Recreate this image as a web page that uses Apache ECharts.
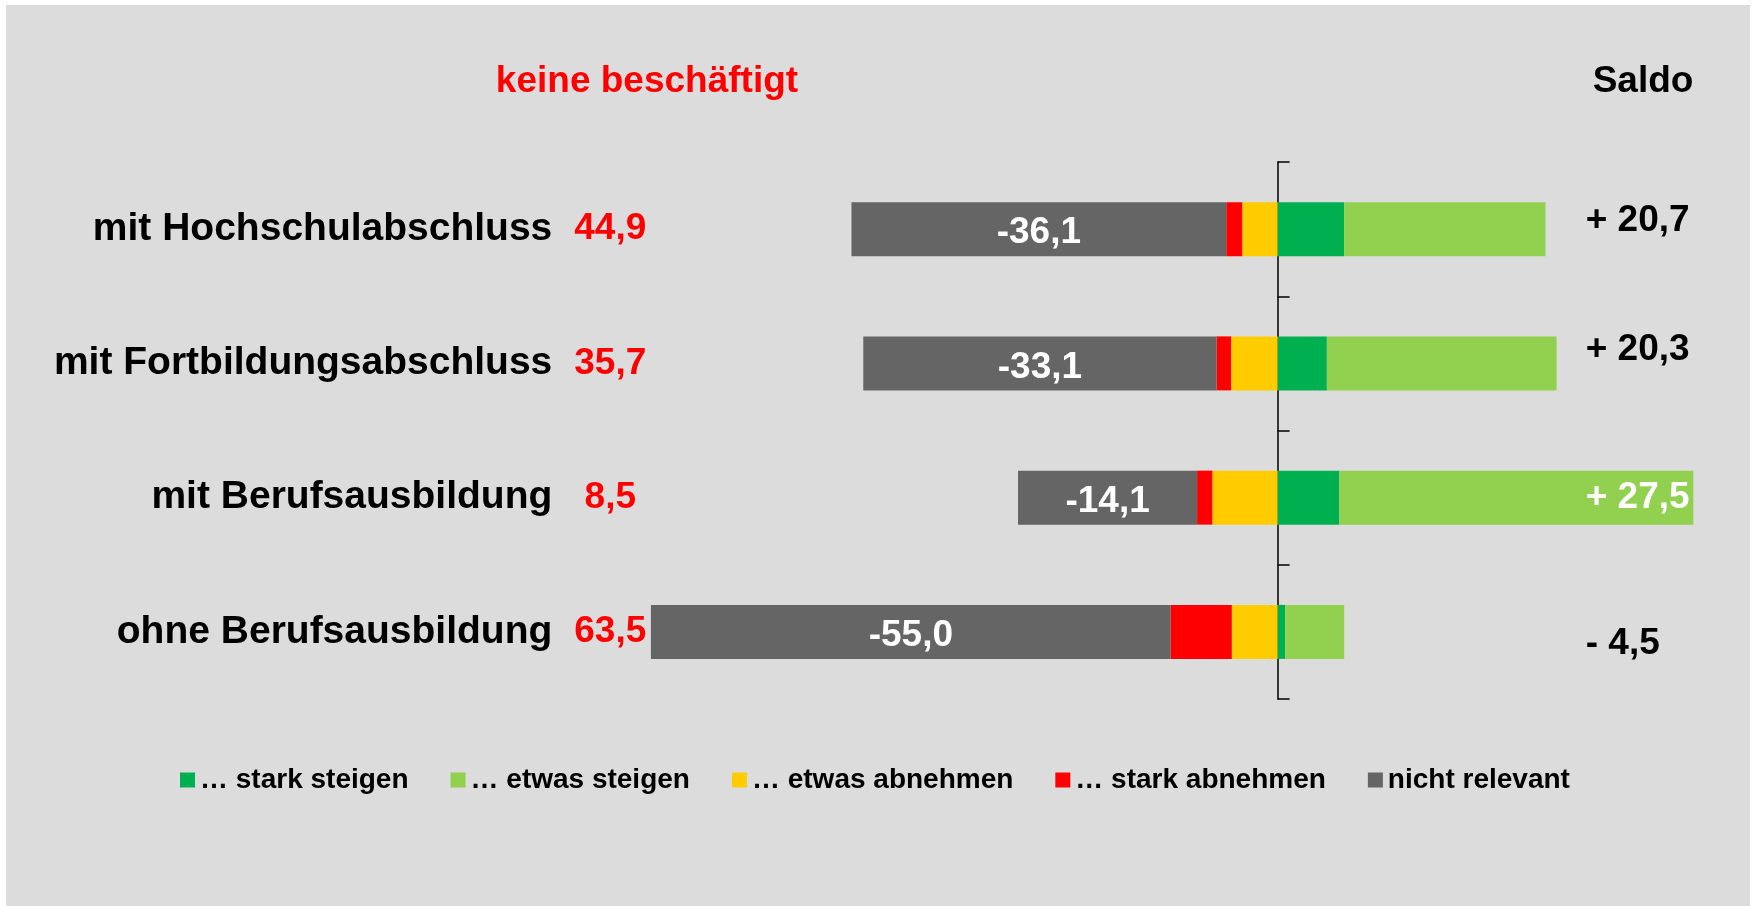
<!DOCTYPE html>
<html>
<head>
<meta charset="utf-8">
<script src="https://cdn.jsdelivr.net/npm/echarts@6/dist/echarts.min.js"></script>
<style>
  html, body { margin: 0; padding: 0; background: #fff; }
  #main { width: 1753px; height: 906px; }
</style>
</head>
<body>
<div id="main"></div>
<script>
// Daten
var categories = ['mit Hochschulabschluss', 'mit Fortbildungsabschluss', 'mit Berufsausbildung', 'ohne Berufsausbildung']
var keineBeschaeftigt = ['44,9', '35,7', '8,5', '63,5']
var starkSteigen = [9.6, 7.1, 8.9, 1.1]
var etwasSteigen = [29.0, 33.1, 51.0, 8.5]
var etwasAbnehmen = [-5.1, -6.7, -9.4, -6.6]
var starkAbnehmen = [-2.3, -2.1, -2.2, -8.8]
var nichtRelevant = [-54.0, -50.9, -25.8, -74.9]
var grauLabels = ['-36,1', '-33,1', '-14,1', '-55,0']
var saldo = ['+ 20,7', '+ 20,3', '+ 27,5', '- 4,5']

var FONT = '"Liberation Sans", Arial, sans-serif'
// vertical nudge of the saldo labels (px, negative = up)
var saldoNudge = [-8, -14, 0, 12]

var saldoRich = {}
saldo.forEach(function (s, i) {
  var d = saldoNudge[i]
  var inside = (starkSteigen[i] + etwasSteigen[i]) > 45
  saldoRich['s' + i] = {
    fontFamily: FONT,
    fontSize: 37,
    fontWeight: 'bold',
    color: inside ? '#fff' : '#000',
    padding: d < 0 ? [0, 0, -2 * d, 0] : [2 * d, 0, 0, 0]
  }
})

function barSeries(name, data, color) {
  return {
    name: name,
    type: 'bar',
    stack: 'total',
    barWidth: 54,
    itemStyle: { color: color },
    data: data
  }
}

var grau = barSeries('nicht relevant', nichtRelevant, '#656565')
grau.label = {
  show: true,
  position: 'inside',
  offset: [0, 4],
  color: '#fff',
  fontFamily: FONT,
  fontSize: 37,
  fontWeight: 'bold',
  textBorderWidth: 0,
  formatter: function (p) { return grauLabels[p.dataIndex] }
}

var myChart = echarts.init(document.getElementById('main'))
var option = {
  animation: false,
  backgroundColor: '#fff',
  textStyle: { fontFamily: FONT },
  graphic: [
    {
      type: 'rect',
      z: -10,
      silent: true,
      shape: { x: 6, y: 5, width: 1744, height: 901 },
      style: { fill: '#DCDCDC' }
    },
    {
      type: 'text',
      x: 647,
      y: 82,
      style: {
        text: 'keine beschäftigt',
        fill: '#FF0000',
        font: 'bold 37px ' + FONT,
        align: 'center', textAlign: 'center',
        verticalAlign: 'middle', textVerticalAlign: 'middle'
      }
    },
    {
      type: 'text',
      x: 1643,
      y: 82,
      style: {
        text: 'Saldo',
        fill: '#000',
        font: 'bold 37px ' + FONT,
        align: 'center', textAlign: 'center',
        verticalAlign: 'middle', textVerticalAlign: 'middle'
      }
    }
  ],
  legend: {
    left: 175,
    top: 761,
    icon: 'rect',
    itemWidth: 15,
    itemHeight: 15,
    itemGap: 42,
    textStyle: { fontFamily: FONT, fontSize: 28, fontWeight: 'bold', color: '#000' },
    data: ['… stark steigen', '… etwas steigen', '… etwas abnehmen', '… stark abnehmen', 'nicht relevant']
  },
  grid: {
    left: 618.3,
    right: 24.3,
    top: 162,
    bottom: 207,
    outerBoundsMode: 'none'
  },
  xAxis: {
    type: 'value',
    min: -95,
    max: 65,
    show: false
  },
  yAxis: [
    {
      // Nulllinie mit Ticks
      type: 'category',
      data: categories,
      inverse: true,
      axisLine: { onZero: true, lineStyle: { color: '#000', width: 1.5 } },
      axisTick: { show: true, inside: true, length: 12, lineStyle: { color: '#000', width: 1.5 } },
      splitLine: { show: false },
      axisLabel: { show: false }
    },
    {
      // Saldo rechts
      type: 'category',
      data: categories,
      inverse: true,
      position: 'right',
      z: 10,
      axisLine: { show: false, onZero: false },
      axisTick: { show: false },
      splitLine: { show: false },
      axisLabel: {
        inside: true,
        margin: 143,
        align: 'left',
        formatter: function (v, i) {
          return '{s' + i + '|' + saldo[i] + '}'
        },
        rich: saldoRich
      }
    },
    {
      // Kategorien + keine beschäftigt links
      type: 'category',
      data: categories,
      inverse: true,
      position: 'left',
      offset: -50,
      axisLine: { show: false, onZero: false },
      axisTick: { show: false },
      splitLine: { show: false },
      axisLabel: {
        margin: 0,
        formatter: function (v, i) {
          return '{n|' + v + '}{v|' + keineBeschaeftigt[i] + '}'
        },
        rich: {
          n: { fontFamily: FONT, fontSize: 39, fontWeight: 'bold', color: '#000' },
          v: { fontFamily: FONT, fontSize: 37, fontWeight: 'bold', color: '#FF0000', width: 116, align: 'center' }
        }
      }
    }
  ],
  series: [
    barSeries('… stark steigen', starkSteigen, '#00B050'),
    barSeries('… etwas steigen', etwasSteigen, '#92D050'),
    barSeries('… etwas abnehmen', etwasAbnehmen, '#FFCC00'),
    barSeries('… stark abnehmen', starkAbnehmen, '#FF0000'),
    grau
  ]
}
myChart.setOption(option)
</script>
</body>
</html>
